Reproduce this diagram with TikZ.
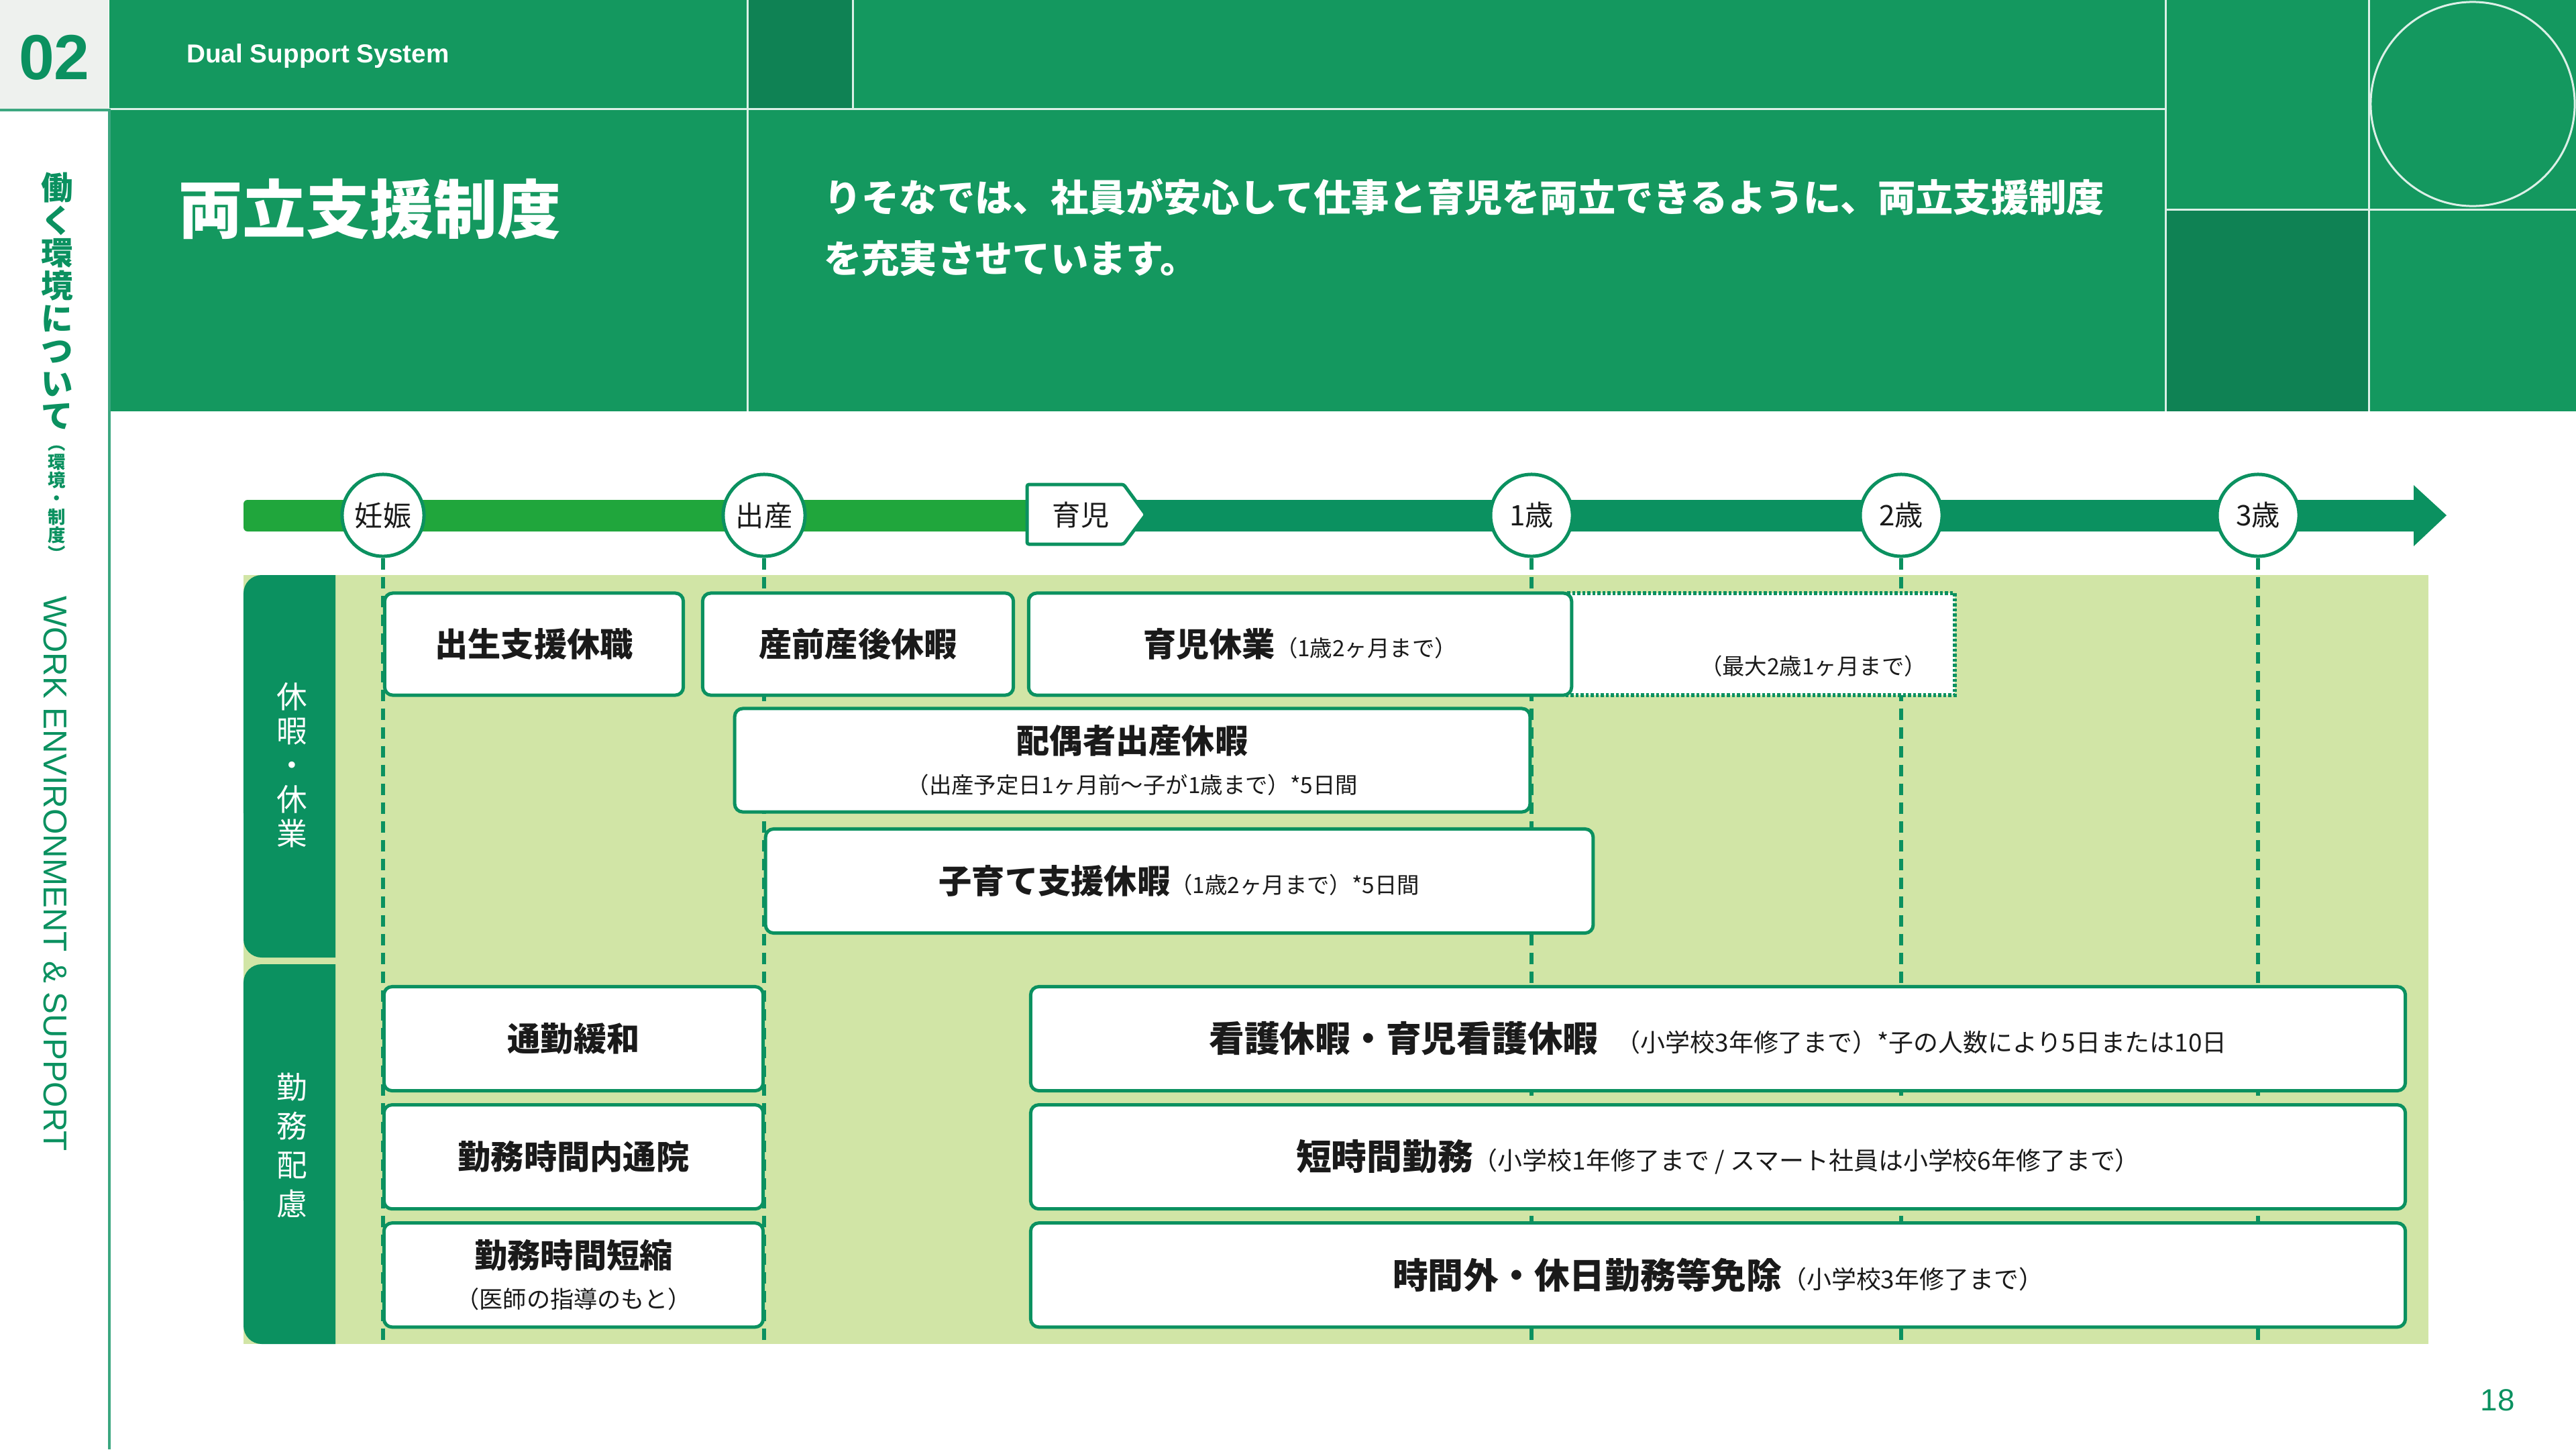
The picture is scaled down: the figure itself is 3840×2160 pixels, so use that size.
\documentclass[tikz,border=0pt]{standalone}
\usepackage{fontspec}
\setmainfont{Noto Sans CJK JP}
\newfontfamily\latin{Liberation Sans}
\usetikzlibrary{positioning}
\definecolor{hdrgreen}{HTML}{14985F}
\definecolor{hdrdark}{HTML}{0F8254}
\definecolor{deep}{HTML}{0B9160}
\definecolor{barlight}{HTML}{20A63C}
\definecolor{panelgreen}{HTML}{D1E5A6}
\definecolor{ink}{HTML}{1A1A1A}
\definecolor{sidegray}{HTML}{EEF1EE}
\newcommand{\smallnote}[2][9.5]{{\fontsize{#1}{#1}\selectfont\mdseries #2}}
\tikzset{
	x=0.01cm, y=-0.01cm, % one unit is one pixel of the slide, y runs down
	milestone/.style={circle, draw=deep, line width=0.05cm, fill=white, minimum size=1.22cm, inner sep=0pt, text=ink, font=\fontsize{12}{14}\selectfont}, % points on the time line
	plan/.style={draw=deep, line width=0.05cm, fill=white, rounded corners=0.12cm, align=center, inner sep=0pt, text=ink, font=\bfseries\fontsize{14}{17}\selectfont}, % one measure of the system
	guide/.style={draw=deep, line width=0.06cm, dash pattern=on 0.17cm off 0.11cm}, % drops from the time line
	tabtext/.style={text=white, align=center}, % the two groups on the left
	hairline/.style={draw=white!85!hdrgreen, line width=0.03cm}, % thin lines of the header
}
\begin{document}
\begin{tikzpicture}
	\useasboundingbox (0,0) rectangle (3840,2160);
	% header
	\fill[sidegray] (0,0) rectangle (162,162);
	\fill[hdrgreen] (163,0) rectangle (3840,613);
	\fill[hdrdark] (1114,0) rectangle (1271,162);
	\fill[hdrdark] (3228,312) rectangle (3531,613);
	\draw[hairline] (163,162) -- (3228,162);
	\draw[hairline] (3228,312) -- (3840,312);
	\draw[hairline] (1114,0) -- (1114,613);
	\draw[hairline] (1271,0) -- (1271,162);
	\draw[hairline] (3228,0) -- (3228,613);
	\draw[hairline] (3531,0) -- (3531,613);
	\draw[hairline] (3686,155) circle[radius=1.52cm];
	\draw[deep!80, line width=0.04cm] (0,164) -- (163,164) -- (163,2160);
	\node[text=deep, font=\latin\bfseries\fontsize{27}{30}\selectfont] (secno) at (81,86) {02};
	\node[anchor=west, text=white, font=\latin\bfseries\fontsize{11}{13}\selectfont] (subtitle) at (266,83) {Dual Support System};
	\node[anchor=west, text=white, font=\bfseries\fontsize{27}{30}\selectfont] (title) at (254,312) {両立支援制度};
	\node[anchor=west, text=white, font=\bfseries\fontsize{16}{20}\selectfont] (lead1) at (1216,294) {りそなでは、社員が安心して仕事と育児を両立できるように、両立支援制度};
	\node[anchor=west, text=white, font=\bfseries\fontsize{16}{20}\selectfont] (lead2) at (1216,385) {を充実させています。};
	% side title
	\node[anchor=north, text=deep, align=center, font=\bfseries\fontsize{13.5}{13.8}\selectfont] (sidejp) at (85,245) {働\\く\\環\\境\\に\\つ\\い\\て};
	\node[anchor=north, text=deep, align=center, font=\bfseries\fontsize{7.5}{7.8}\selectfont] (sidesub) at (85,652) {︵\\環\\境\\・\\制\\度\\︶};
	\node[rotate=-90, text=deep, font=\latin\fontsize{14}{16}\selectfont] (sideen) at (82,1302) {WORK ENVIRONMENT \& SUPPORT};
	\node[text=deep, font=\latin\fontsize{13}{15}\selectfont] (pageno) at (3723,2087) {18};
	% time line
	\fill[barlight, rounded corners=0.06cm] (363,745) rectangle (1600,792);
	\fill[deep] (1600,745) -- (3598,745) -- (3598,723) -- (3647,768) -- (3598,814) -- (3598,792) -- (1600,792) -- cycle;
	\node[milestone] (ninshin) at (571,768) {妊娠};
	\node[milestone] (shussan) at (1139,768) {出産};
	\node[milestone] (age1) at (2283,768) {1歳};
	\node[milestone] (age2) at (2834,768) {2歳};
	\node[milestone] (age3) at (3366,768) {3歳};
	\draw[deep, line width=0.05cm, fill=white, rounded corners=0.03cm] (1531,722) -- (1675,722) -- (1708,767) -- (1675,811) -- (1531,811) -- cycle;
	\node[text=ink, font=\fontsize{12}{14}\selectfont] (ikuji) at (1611,768) {育児};
	% panel and groups
	\fill[panelgreen] (363,857) rectangle (3620,2003);
	\coordinate (floor) at (363,2003);
	\draw[guide] (ninshin) -- (ninshin |- floor)
		(shussan) -- (shussan |- floor)
		(age1) -- (age1 |- floor)
		(age2) -- (age2 |- floor)
		(age3) -- (age3 |- floor);
	\fill[deep] (500,857) -- (390,857) arc[start angle=90, end angle=180, radius=0.27cm] -- (363,1400) arc[start angle=180, end angle=270, radius=0.27cm] -- (500,1427) -- cycle;
	\fill[deep] (500,1437) -- (390,1437) arc[start angle=90, end angle=180, radius=0.27cm] -- (363,1976) arc[start angle=180, end angle=270, radius=0.27cm] -- (500,2003) -- cycle;
	\node[tabtext, font=\fontsize{13}{14.5}\selectfont] (tableave) at (435,1140) {休\\暇\\・\\休\\業};
	\node[tabtext, font=\fontsize{13}{16.5}\selectfont] (tabwork) at (435,1707) {勤\\務\\配\\慮};
	% leave
	\node[plan, minimum width=4.45cm, minimum height=1.52cm] (birth) at (796,960) {出生支援休職};
	\node[plan, minimum width=4.63cm, minimum height=1.52cm] (matern) at (1279,960) {産前産後休暇};
	\node[draw=deep, line width=0.06cm, dash pattern=on 0.045cm off 0.03cm, fill=white, minimum width=5.8cm, minimum height=1.52cm] (extend) at (2624,960) {};
	\node[text=ink, font=\fontsize{9.5}{11}\selectfont] (extendnote) at (2703,993) {（最大2歳1ヶ月まで）};
	\node[plan, minimum width=8.09cm, minimum height=1.52cm] (childcare) at (1938,960) {育児休業\smallnote{（1歳2ヶ月まで）}};
	\node[plan, minimum width=11.85cm, minimum height=1.54cm] (spouse) at (1688,1133) {配偶者出産休暇\\\smallnote{（出産予定日1ヶ月前～子が1歳まで）*5日間}};
	\node[plan, minimum width=12.33cm, minimum height=1.55cm] (rearing) at (1758,1313) {子育て支援休暇\smallnote{（1歳2ヶ月まで）*5日間}};
	% work
	\node[plan, minimum width=5.65cm, minimum height=1.55cm] (commute) at (855,1548) {通勤緩和};
	\node[plan, minimum width=5.65cm, minimum height=1.55cm, below=0.16cm of commute] (clinic) {勤務時間内通院};
	\node[plan, minimum width=5.65cm, minimum height=1.55cm, below=0.16cm of clinic] (shorten) {勤務時間短縮\\\smallnote[10]{（医師の指導のもと）}};
	\node[plan, minimum width=20.48cm, minimum height=1.55cm, font=\bfseries\fontsize{15}{18}\selectfont] (nursing) at (2561,1548) {看護休暇・育児看護休暇\enspace\smallnote[10.5]{（小学校3年修了まで）*子の人数により5日または10日}};
	\node[plan, minimum width=20.48cm, minimum height=1.55cm, font=\bfseries\fontsize{15}{18}\selectfont, below=0.16cm of nursing] (shortwork) {短時間勤務\smallnote[10.5]{（小学校1年修了まで / スマート社員は小学校6年修了まで）}};
	\node[plan, minimum width=20.48cm, minimum height=1.55cm, font=\bfseries\fontsize{15}{18}\selectfont, below=0.16cm of shortwork] (overtime) {時間外・休日勤務等免除\smallnote[10.5]{（小学校3年修了まで）}};
\end{tikzpicture}
\end{document}
